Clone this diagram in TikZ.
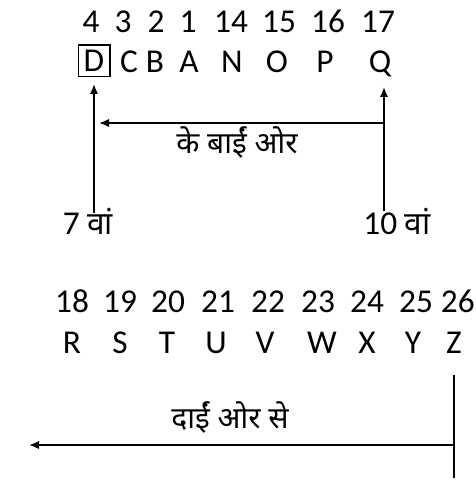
\documentclass[tikz,border=0pt]{standalone}
\usepackage{fontspec}
\setmainfont{Carlito}
\newfontfamily\hindi[Script=Devanagari]{Noto Sans}
\usetikzlibrary{arrows.meta}

\tikzset{
  lbl/.style={font=\fontsize{20}{24}\selectfont, inner sep=0pt, anchor=base},
  hin/.style={font=\hindi\fontsize{18}{22}\selectfont, inner sep=0pt, anchor=base},
  arr/.style={-{Latex[length=6pt,width=5pt]}, line width=1pt},
  ln/.style={line width=1pt}
}

\begin{document}
\begin{tikzpicture}[x=0.6pt, y=-0.6pt]
\useasboundingbox (0,0) rectangle (475,486);

% top numbers
\node[lbl] (n4)  at (91,33)  {4};
\node[lbl] (n3)  at (123,33) {3};
\node[lbl] (n2)  at (156,33) {2};
\node[lbl] (n1)  at (188,33) {1};
\node[lbl] (n14) at (231,33) {14};
\node[lbl] (n15) at (279,33) {15};
\node[lbl] (n16) at (328,33) {16};
\node[lbl] (n17) at (378,33) {17};

% top letters
\node[lbl, anchor=center, draw, line width=0.8pt, minimum width=19pt, minimum height=19pt] (lD) at (94,61) {D};
\node[lbl] (lC) at (129,73) {C};
\node[lbl] (lB) at (155,73) {B};
\node[lbl] (lA) at (189,73) {A};
\node[lbl] (lN) at (232,73) {N};
\node[lbl] (lO) at (277,73) {O};
\node[lbl] (lP) at (325,73) {P};
\node[lbl] (lQ) at (380,73) {Q};

% 7th and 10th
\node[lbl] (seventh) at (88,235) {7 {\hindi\fontsize{19}{22}\selectfont वां}};
\node[lbl] (tenth)   at (397,235) {10 {\hindi\fontsize{19}{22}\selectfont वां}};

\coordinate (lbot) at (94,213);
\coordinate (ltop) at (94,84);
\coordinate (rbot) at (384,211);
\coordinate (rtop) at (384,87);
\coordinate (hr) at (384,123);
\coordinate (hl) at (99,123);

\draw[arr] (lbot) -- (ltop);
\draw[arr] (rbot) -- (rtop);
\draw[arr] (hr) -- (hl);
\node[hin] (leftof) at (237,154) {के बाईं ओर};

% bottom numbers
\node[lbl] (n18) at (72,312)  {18};
\node[lbl] (n19) at (120,312) {19};
\node[lbl] (n20) at (168,312) {20};
\node[lbl] (n21) at (218,312) {21};
\node[lbl] (n22) at (268,312) {22};
\node[lbl] (n23) at (318,312) {23};
\node[lbl] (n24) at (367,312) {24};
\node[lbl] (n25) at (416,312) {25};
\node[lbl, anchor=base east] (n26) at (475,312) {26};

% bottom letters
\node[lbl] (lR) at (72,353)  {R};
\node[lbl] (lS) at (120,353) {S};
\node[lbl] (lT) at (167,353) {T};
\node[lbl] (lU) at (216,353) {U};
\node[lbl] (lV) at (265,353) {V};
\node[lbl] (lW) at (322,353) {W};
\node[lbl] (lX) at (367,353) {X};
\node[lbl] (lY) at (413,353) {Y};
\node[lbl] (lZ) at (454,353) {Z};

\coordinate (ztop) at (454,375);
\coordinate (zbot) at (454,478);
\coordinate (zmid) at (454,445);
\coordinate (zend) at (29,445);

\draw[ln] (ztop) -- (zbot);
\draw[arr] (zmid) -- (zend);
\node[hin] (fromright) at (230,428) {दाईं ओर से};
\end{tikzpicture}
\end{document}
